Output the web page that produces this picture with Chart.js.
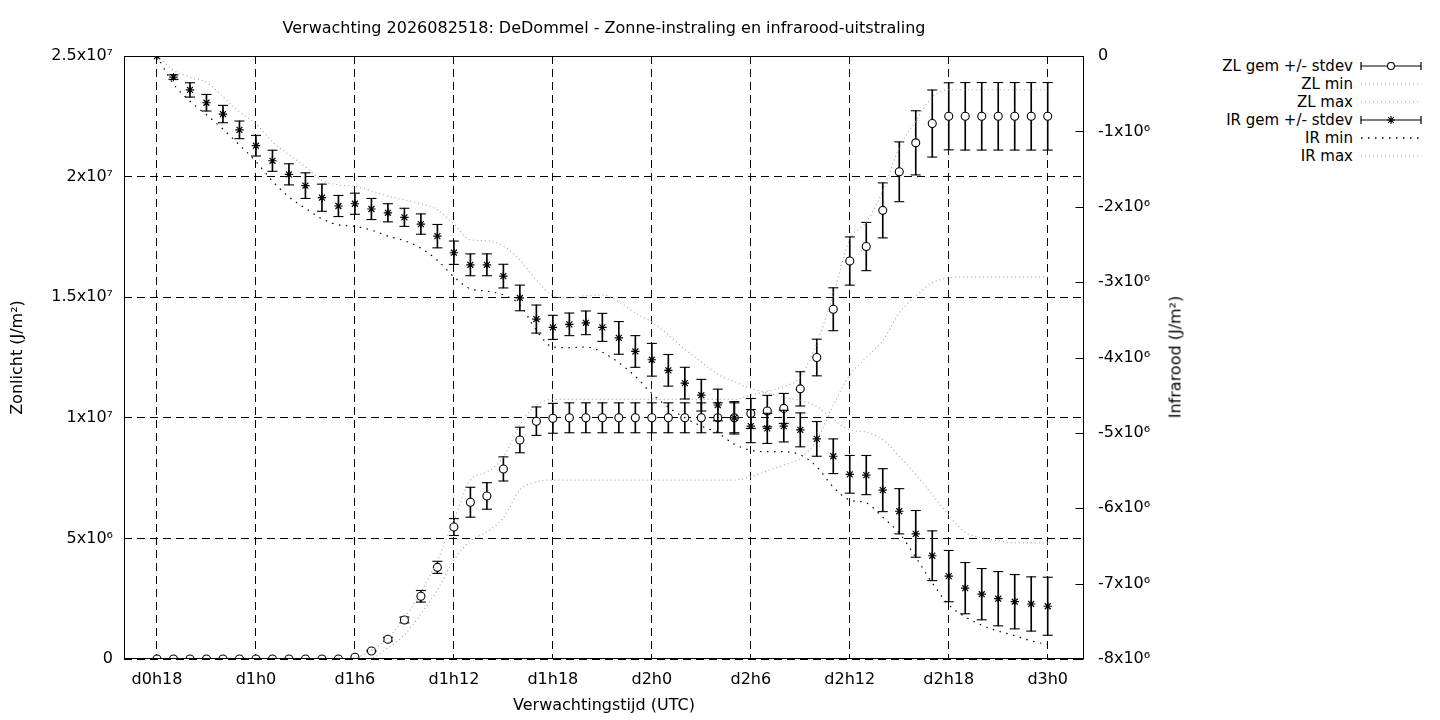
<!DOCTYPE html>
<html>
<head>
<meta charset="utf-8">
<title>Zonne-instraling en infrarood-uitstraling</title>
<script src="https://cdn.jsdelivr.net/npm/chart.js@4.4.1/dist/chart.umd.min.js"></script>
<style>
body { margin: 0; background: #fff; font-family: "DejaVu Sans", sans-serif; color: #000; }
#wrap { position: relative; width: 1440px; height: 720px; overflow: hidden; }
#grafiek { position: absolute; left: 0; top: 0; }
#y2titel { position: absolute; left: 1175px; top: 357px; font-size: 16px; white-space: nowrap;
           transform: translate(-50%, -50%) rotate(-90deg); }
.legtekst { position: absolute; right: 87px; height: 18px; line-height: 18px; font-size: 15px; white-space: nowrap; }
.legmonster { position: absolute; left: 1359px; width: 64px; height: 18px; }
</style>
</head>
<body>
<div id="wrap">
    <canvas id="grafiek" width="1208" height="720"></canvas>
    <div id="y2titel">Infrarood (J/m²)</div>
    <div id="legenda"></div>
</div>
<script>
// uren sinds d0h0, waarden in 10^6 J/m2
const uren = [18,19,20,21,22,23,24,25,26,27,28,29,30,31,32,33,34,35,36,37,38,39,40,41,42,43,44,45,
              46,47,48,49,50,51,52,53,54,55,56,57,58,59,60,61,62,63,64,65,66,67,68,69,70,71,72];

const zlGem = [0,0,0,0,0,0,0,0,0,0,0,0,
               0.07,0.33,0.82,1.62,2.6,3.8,5.47,6.5,6.76,7.88,9.08,9.86,
               9.98,10,10,10,10,10,10,10,10,10,10,10,
               10.18,10.28,10.39,11.2,12.5,14.5,16.5,17.1,18.6,20.2,21.4,22.2,
               22.5,22.5,22.5,22.5,22.5,22.5,22.5];
const zlSd = [0,0,0,0,0,0,0,0,0,0,0,0,
              0.02,0.03,0.08,0.12,0.24,0.25,0.35,0.62,0.55,0.5,0.53,0.59,
              0.62,0.62,0.62,0.62,0.62,0.62,0.62,0.62,0.62,0.62,0.62,0.62,
              0.62,0.65,0.62,0.71,0.76,0.89,1.0,1.0,1.14,1.24,1.33,1.39,
              1.39,1.4,1.4,1.4,1.4,1.4,1.4];
const zlMin = [0,0,0,0,0,0,0,0,0,0,0,0,
               0,0.04,0.46,1.0,1.87,2.86,4.1,4.9,5.27,5.85,7.0,7.34,
               7.42,7.42,7.42,7.42,7.42,7.42,7.42,7.42,7.42,7.42,7.42,7.42,
               7.55,7.8,8.04,8.33,9.08,10.53,11.77,12.5,13.2,14.35,15.05,15.6,
               15.8,15.84,15.84,15.84,15.84,15.84,15.84];
const zlMax = [0,0,0,0,0,0,0,0,0,0,0,0,
               0.05,0.35,0.87,1.7,2.78,4.1,5.76,7.42,7.75,8.37,9.7,10.53,
               10.76,10.76,10.76,10.76,10.76,10.76,10.76,10.76,10.76,10.76,10.76,10.76,
               10.95,11.1,11.3,11.7,13.1,15.1,17.4,18.1,19.4,21.2,22.3,23.3,
               23.6,23.6,23.6,23.6,23.6,23.6,23.6];

const irGem = [0,-0.28,-0.45,-0.62,-0.77,-0.98,-1.19,-1.39,-1.57,-1.72,-1.88,-1.99,
               -1.96,-2.03,-2.08,-2.14,-2.23,-2.39,-2.61,-2.77,-2.77,-2.92,-3.21,-3.49,
               -3.60,-3.56,-3.54,-3.60,-3.74,-3.92,-4.03,-4.17,-4.34,-4.50,-4.63,-4.80,
               -4.91,-4.94,-4.91,-4.96,-5.08,-5.31,-5.55,-5.56,-5.76,-6.04,-6.34,-6.63,
               -6.90,-7.06,-7.14,-7.20,-7.24,-7.27,-7.30];
const irSd = [0,0.03,0.095,0.11,0.115,0.117,0.137,0.14,0.14,0.17,0.18,0.14,
              0.14,0.14,0.12,0.12,0.135,0.155,0.155,0.145,0.145,0.157,0.17,0.186,
              0.16,0.15,0.157,0.186,0.217,0.21,0.217,0.21,0.21,0.21,0.21,0.215,
              0.22,0.2,0.21,0.225,0.23,0.23,0.25,0.26,0.285,0.3,0.31,0.33,
              0.34,0.34,0.34,0.36,0.36,0.36,0.385];
const irMin = [0,-0.37,-0.6,-0.78,-0.97,-1.18,-1.40,-1.66,-1.87,-2.02,-2.16,-2.24,
               -2.26,-2.31,-2.39,-2.45,-2.55,-2.71,-2.93,-3.09,-3.12,-3.17,-3.30,-3.64,
               -3.86,-3.87,-3.86,-3.93,-4.07,-4.25,-4.48,-4.66,-4.80,-4.91,-5.0,-5.15,
               -5.23,-5.25,-5.25,-5.29,-5.45,-5.72,-5.89,-5.93,-6.12,-6.33,-6.65,-6.99,
               -7.28,-7.44,-7.55,-7.63,-7.69,-7.76,-7.81];
const irMax = [0,-0.19,-0.28,-0.35,-0.54,-0.74,-0.90,-1.14,-1.31,-1.47,-1.65,-1.71,
               -1.73,-1.79,-1.86,-1.91,-1.96,-2.04,-2.23,-2.44,-2.45,-2.52,-2.71,-2.97,
               -3.18,-3.21,-3.18,-3.17,-3.26,-3.41,-3.53,-3.70,-3.89,-4.06,-4.22,-4.32,
               -4.41,-4.47,-4.53,-4.57,-4.65,-4.82,-4.96,-4.99,-5.09,-5.31,-5.55,-5.82,
               -6.09,-6.32,-6.39,-6.43,-6.46,-6.46,-6.46];

// assen
const xTicks = [18,24,30,36,42,48,54,60,66,72];
const xLabels = ['d0h18','d1h0','d1h6','d1h12','d1h18','d2h0','d2h6','d2h12','d2h18','d3h0'];
const yTicks = [0,5e6,1e7,1.5e7,2e7,2.5e7];
const yLabels = ['0','5x10⁶','1x10⁷','1.5x10⁷','2x10⁷','2.5x10⁷'];
const y2Ticks = [-8e6,-7e6,-6e6,-5e6,-4e6,-3e6,-2e6,-1e6,0];
const y2Labels = ['-8x10⁶','-7x10⁶','-6x10⁶','-5x10⁶','-4x10⁶','-3x10⁶','-2x10⁶','-1x10⁶','0'];

const titel = 'Verwachting 2026082518: DeDommel - Zonne-instraling en infrarood-uitstraling';
const legendaNamen = ['ZL gem +/- stdev','ZL min','ZL max','IR gem +/- stdev','IR min','IR max'];

const grijs = '#a6a6a6';

function punten(waarden){
    return uren.map((u, i) => ({x: u, y: waarden[i] * 1e6}));
}

function staven(gem, sd){
    return uren.map((u, i) => ({x: u, y: [(gem[i] - sd[i]) * 1e6, (gem[i] + sd[i]) * 1e6]}));
}

function kapjes(gem, sd){
    let p = [];
    uren.forEach((u, i) => {
        if (sd[i] > 0.02) {
            p.push({x: u, y: (gem[i] - sd[i]) * 1e6});
            p.push({x: u, y: (gem[i] + sd[i]) * 1e6});
        }
    });
    return p;
}

function lijn(label, waarden, as, kleur, streep, volgorde){
    return {
        type: 'line', label: label, data: punten(waarden), yAxisID: as,
        borderColor: kleur, borderWidth: 1.2, borderDash: streep,
        pointRadius: 0, cubicInterpolationMode: 'monotone', order: volgorde
    };
}

// frame om het plotgebied en tics op de rechteras
const kaderPlugin = {
    id: 'kader',
    afterDatasetsDraw(chart){
        const ctx = chart.ctx;
        const a = chart.chartArea;
        const l = Math.round(a.left) + 0.5, r = Math.round(a.right) - 0.5;
        const t = Math.round(a.top) + 0.5, b = Math.round(a.bottom) - 0.5;
        ctx.save();
        ctx.strokeStyle = '#000';
        ctx.lineWidth = 1;
        ctx.setLineDash([]);
        ctx.strokeRect(l, t, r - l, b - t);
        ctx.beginPath();
        y2Ticks.forEach(v => {
            const y = Math.round(chart.scales.y2.getPixelForValue(v)) + 0.5;
            ctx.moveTo(r - 8, y);
            ctx.lineTo(r, y);
        });
        ctx.stroke();
        ctx.restore();
    }
};

function tekenGrafiek(){
    Chart.defaults.font.family = '"DejaVu Sans", sans-serif';
    Chart.defaults.font.size = 16;
    Chart.defaults.color = '#000';

    const ctx = document.getElementById('grafiek').getContext('2d');
    new Chart(ctx, {
        type: 'line',
        data: {
            datasets: [
                lijn('IR max', irMax, 'y2', grijs, [1, 3], 1),
                lijn('IR min', irMin, 'y2', '#000', [1.5, 5.5], 1),
                {
                    type: 'line', label: 'IR gem', data: punten(irGem), yAxisID: 'y2', showLine: false,
                    pointStyle: 'star', pointRadius: 4.2, borderColor: '#000', borderWidth: 1.2, order: 2
                },
                {
                    type: 'line', label: 'IR kap', data: kapjes(irGem, irSd), yAxisID: 'y2', showLine: false,
                    pointStyle: 'line', pointRadius: 5, borderColor: '#000', borderWidth: 1.1, order: 3
                },
                {
                    type: 'bar', label: 'IR stdev', data: staven(irGem, irSd), yAxisID: 'y2', grouped: false,
                    barThickness: 1, backgroundColor: '#000', borderWidth: 0, order: 4
                },
                lijn('ZL max', zlMax, 'y', grijs, [1, 3], 5),
                lijn('ZL min', zlMin, 'y', grijs, [1, 3], 5),
                {
                    type: 'line', label: 'ZL gem', data: punten(zlGem), yAxisID: 'y', showLine: false,
                    pointStyle: 'circle', pointRadius: 4, backgroundColor: '#fff', borderColor: '#000',
                    borderWidth: 1.1, order: 6
                },
                {
                    type: 'line', label: 'ZL kap', data: kapjes(zlGem, zlSd), yAxisID: 'y', showLine: false,
                    pointStyle: 'line', pointRadius: 5, borderColor: '#000', borderWidth: 1.1, order: 7
                },
                {
                    type: 'bar', label: 'ZL stdev', data: staven(zlGem, zlSd), yAxisID: 'y', grouped: false,
                    barThickness: 1, backgroundColor: '#000', borderWidth: 0, order: 8
                }
            ]
        },
        options: {
            responsive: false,
            animation: false,
            events: [],
            layout: { padding: 0 },
            plugins: {
                legend: { display: false },
                tooltip: { enabled: false },
                title: {
                    display: true, text: titel, color: '#000',
                    font: { size: 16, weight: 'normal' },
                    padding: { top: 19.4, bottom: 17.4 }
                }
            },
            scales: {
                x: {
                    type: 'linear', min: 16, max: 74.2, offset: false,
                    afterBuildTicks: s => { s.ticks = xTicks.map(v => ({value: v})); },
                    afterFit: s => { s.height = 61; },
                    ticks: {
                        callback: v => xLabels[xTicks.indexOf(v)],
                        padding: 11, maxRotation: 0, autoSkip: false, color: '#000'
                    },
                    grid: { color: '#000', lineWidth: 1, drawTicks: false, offset: false },
                    border: { display: false, dash: [8, 5] },
                    title: { display: true, text: 'Verwachtingstijd (UTC)', color: '#000', padding: { top: 0, bottom: 4.4 } }
                },
                y: {
                    type: 'linear', position: 'left', min: 0, max: 2.5e7,
                    afterBuildTicks: s => { s.ticks = yTicks.map(v => ({value: v})); },
                    afterFit: s => { s.width = 124; },
                    ticks: { callback: v => yLabels[yTicks.indexOf(v)], padding: 11, color: '#000' },
                    grid: { color: '#000', lineWidth: 1, drawTicks: false, offset: false },
                    border: { display: false, dash: [8, 5] },
                    title: { display: true, text: 'Zonlicht (J/m²)', color: '#000', padding: { top: 8.4, bottom: 0 } }
                },
                y2: {
                    type: 'linear', position: 'right', min: -8e6, max: 0,
                    afterBuildTicks: s => { s.ticks = y2Ticks.map(v => ({value: v})); },
                    afterFit: s => { s.width = 124; },
                    ticks: { callback: v => y2Labels[y2Ticks.indexOf(v)], padding: 14, color: '#000' },
                    grid: { drawOnChartArea: false, drawTicks: false },
                    border: { display: false }
                }
            }
        },
        plugins: [kaderPlugin]
    });
}

function monster(i){
    const ns = 'http://www.w3.org/2000/svg';
    let svg = '<svg xmlns="' + ns + '" width="64" height="18">';
    if (i === 0 || i === 3) {
        svg += '<path d="M2 9H62M2 5V13M62 5V13" stroke="#000" stroke-width="1.2" fill="none"/>';
        if (i === 0) {
            svg += '<circle cx="32" cy="9" r="3.5" fill="#fff" stroke="#000" stroke-width="1.1"/>';
        } else {
            svg += '<path d="M28 9H36M32 5V13M29.2 6.2L34.8 11.8M34.8 6.2L29.2 11.8" stroke="#000" stroke-width="1.1"/>';
        }
    } else if (i === 4) {
        svg += '<path d="M2 9H62" stroke="#000" stroke-width="1.3" stroke-dasharray="1.5 5.5"/>';
    } else {
        svg += '<path d="M2 9H62" stroke="' + grijs + '" stroke-width="1.2" stroke-dasharray="1 3"/>';
    }
    return svg + '</svg>';
}

function tekenLegenda(){
    let html = '';
    legendaNamen.forEach((naam, i) => {
        const top = 57 + i * 18;
        html += '<div class="legtekst" style="top:' + top + 'px">' + naam + '</div>';
        html += '<div class="legmonster" style="top:' + top + 'px">' + monster(i) + '</div>';
    });
    document.getElementById('legenda').innerHTML = html;
}

tekenGrafiek();
tekenLegenda();
</script>
</body>
</html>
